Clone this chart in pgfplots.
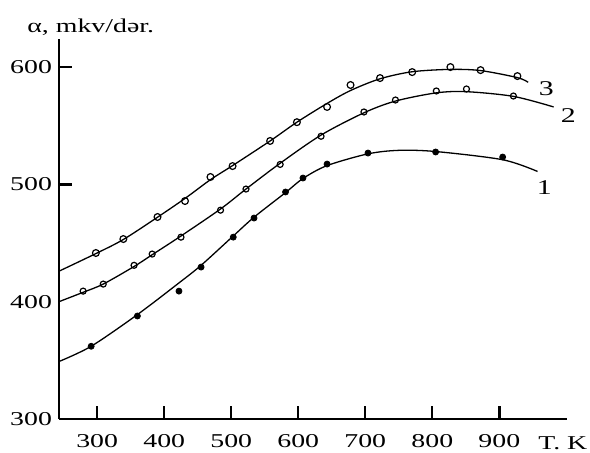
\documentclass[border=0pt]{standalone}
\usepackage{fontspec}
\setmainfont{Liberation Serif}[FakeStretch=1.42]
\usepackage{pgfplots}
\pgfplotsset{compat=1.18}
\begin{document}
\begin{tikzpicture}[x=1pt,y=1pt]
\useasboundingbox (-29.5,-16.5) rectangle (265.5,209.5);
\begin{axis}[
  at={(0,0)}, anchor=south west,
  scale only axis, width=254pt, height=190pt,
  xmin=243, xmax=1001, ymin=300, ymax=623.9,
  axis x line=bottom, axis y line=left,
  axis line style={-, line width=1.3pt},
  xtick={300,400,500,600,700,800,900},
  ytick={500,600}, extra y ticks={300,400},
  extra y tick style={major tick length=0pt},
  tick align=inside, major tick length=6.5pt,
  tick style={line width=1.2pt, black},
  tick label style={font=\fontsize{9.8}{11}\selectfont},
  xticklabel style={yshift=-4pt},
  /pgf/number format/assume math mode=true,
  /pgf/number format/1000 sep={},
  clip=false,
]
% curve 3
\addplot[black, line width=0.65pt, smooth, tension=0.5] coordinates {
  (243,426) (298,441) (339,453) (390,472) (431,488) (469,504) (502,516)
  (558,537) (598,553) (643,569) (678,580) (722,590) (770,596) (827,598)
  (872,597) (927,591) (943,587)};
\addplot[only marks, mark=o, mark size=1.7pt, mark options={line width=0.6pt, black}] coordinates {
  (298,441.5) (339,453.4) (390,472.2) (431,485.8) (469,506.3) (502,515.6)
  (558,537) (598,553) (643,566) (678,584.7) (722,590.6) (770,595.7)
  (827,600) (872,597.4) (927,592.3)};
% curve 2
\addplot[black, line width=0.65pt, smooth, tension=0.5] coordinates {
  (243,400) (279,408) (309,415) (355,430) (382,440) (425,456) (484,479)
  (522,496) (573,518) (634,542) (698,561) (745,571) (806,578) (851,579)
  (921,575) (981,566)};
\addplot[only marks, mark=o, mark size=1.5pt, mark options={line width=0.6pt, black}] coordinates {
  (279,409) (309,415) (355,431) (382,440.6) (425,455) (484,478) (522,496)
  (573,517) (634,541) (698,561.7) (745,571.9) (806,579.6) (851,581.3)
  (921,575.3)};
% curve 1
\addplot[black, line width=0.65pt, smooth, tension=0.5] coordinates {
  (243,349) (291,362) (360,389) (422,416) (455,431) (503,456) (534,472)
  (581,493) (607,505) (643,516) (704,526) (750,529) (805,528) (905,521)
  (957,511)};
\addplot[only marks, mark=*, mark size=1.5pt, black] coordinates {
  (291,362) (360,387.8) (422,409) (455,429.5) (503,455) (534,471.3)
  (581,493.5) (607,505.4) (643,517.3) (704,526.7) (805,527.6) (905,523.3)};
\node[font=\fontsize{10.5}{12}\selectfont] at (axis cs:970,582) {3};
\node[font=\fontsize{10.5}{12}\selectfont] at (axis cs:1003,559) {2};
\node[font=\fontsize{10.5}{12}\selectfont] at (axis cs:967,497) {1};
\end{axis}
\node[font=\fontsize{9.8}{11}\selectfont, anchor=west, inner sep=0pt] at (-16,196) {α, mkv/dər.};
\node[font=\fontsize{9.8}{11}\selectfont, anchor=west, inner sep=0pt] at (239.5,-12) {T. K};
\end{tikzpicture}
\end{document}
